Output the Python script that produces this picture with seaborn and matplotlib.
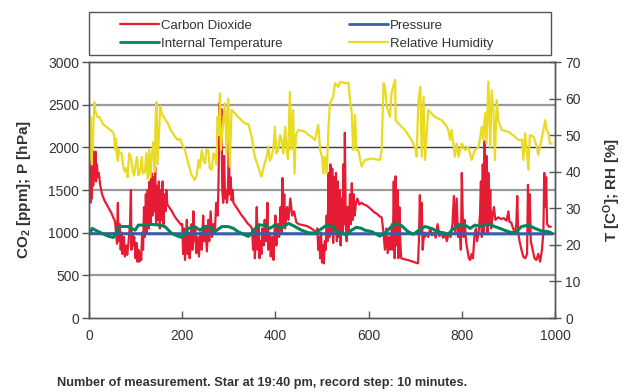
import matplotlib
matplotlib.use("Agg")
import matplotlib.pyplot as plt
from matplotlib.patches import Rectangle
from matplotlib.lines import Line2D
import seaborn as sns
import numpy as np

# ---------------- data ----------------
co2_m = [1,2,3,5,6,8,9,11,12,14,15,17,19,21,
         24,28,33,38,43,48,52,56,
         58,60,62,63,66,68,70,72,75,77,80,82,85,88,90,91,93,95,97,100,102,104,106,108,110,112,114,116,
         118,120,122,124,126,128,130,132,134,136,138,140,142,144,146,148,150,152,154,156,158,160,162,164,166,168,
         172,178,185,192,198,
         200,202,204,206,208,210,212,214,216,218,220,222,224,226,228,230,233,236,239,242,245,247,250,253,256,258,261,264,267,270,273,276,
         278,280,282,284,286,288,290,292,294,296,298,300,302,304,306,308,310,
         316,322,328,334,340,346,
         350,352,354,356,358,360,362,364,366,368,370,372,375,377,380,383,385,388,390,393,396,398,400,402,405,408,411,413,415,417,419,421,
         425,428,432,436,440,445,450,458,466,474,482,488,
         490,492,494,496,498,500,502,504,506,508,510,
         512,514,516,518,520,522,524,526,528,530,532,534,536,538,540,542,544,546,548,549,551,553,555,557,560,562,564,566,568,570,573,576,580,585,590,
         595,600,606,612,618,624,628,
         632,635,638,641,644,647,650,
         652,654,656,658,660,662,664,666,668,
         670,676,684,692,700,706,
         708,710,712,714,716,719,721,
         724,728,732,736,740,744,748,752,756,760,764,768,772,776,780,783,786,789,792,795,798,800,802,804,806,809,812,815,818,821,824,827,830,833,836,839,
         841,843,845,847,849,851,853,855,857,859,861,863,866,869,872,878,884,890,896,900,902,906,910,914,917,919,921,924,928,932,936,940,
         942,944,946,948,952,956,960,964,968,972,975,977,979,981,983,987,991]
co2_v = [1500,1950,1350,1900,1400,1960,1550,1900,1650,1950,1600,1800,1650,1700,
         1560,1450,1380,1330,1280,1230,1180,1130,
         1000,870,1350,900,1100,800,1000,750,950,720,850,740,900,1100,1500,800,1000,850,950,700,880,660,800,660,760,680,1000,800,
         1300,950,1450,1000,1500,1050,1600,1100,1700,1200,1650,1250,1770,1100,1550,1150,1600,1050,1500,1150,1600,1100,1450,1250,1500,1330,
         1300,1250,1180,1130,1090,
         1100,750,1050,680,900,1150,750,1000,700,850,1100,800,1250,900,1050,760,950,720,1000,800,1200,900,1050,780,1150,900,1250,950,1100,1000,1350,1200,
         1600,2520,2000,2450,1500,1350,1900,1400,1500,1350,1450,2050,1450,1650,1380,1500,1350,
         1300,1250,1200,1160,1110,1080,
         1050,800,1000,700,950,1300,800,1100,700,900,750,1050,850,1150,900,1350,800,1000,720,950,680,1000,1200,850,1100,950,1300,1000,1640,1100,1450,1050,
         1300,1150,1400,1200,1250,1120,1100,1090,1080,1060,1030,1000,
         1050,800,950,700,1000,650,850,640,900,800,1200,
         900,1700,950,1800,1000,1750,880,1650,1050,1700,900,1600,950,1500,850,1400,1000,1800,1100,2170,1100,900,1300,1000,1450,1100,1580,1150,1450,1200,1350,1400,1330,1350,1330,
         1320,1300,1270,1240,1220,1190,1180,
         1000,800,1050,760,950,800,1100,
         800,1600,700,1660,850,1500,700,1300,900,
         700,690,680,665,650,640,
         900,1440,1000,1350,800,1000,950,
         1000,950,1050,970,1000,940,1100,960,1000,940,980,900,1000,950,1100,1430,1000,1400,950,1100,800,1700,1200,950,1150,900,800,700,680,750,700,950,1050,900,1000,1200,
         1600,950,1800,1000,2070,1100,1900,1000,1700,1100,1500,1050,1200,1300,1150,1180,1160,1170,1140,1250,1130,1120,1050,1000,1100,1430,1000,900,800,720,700,750,
         1560,1000,1450,900,800,700,680,750,660,800,1000,1700,1300,1650,1100,1070,1070]

pres_m = [0, 100, 200, 300, 400, 500, 600, 700, 800, 900, 995]
pres_v = [988, 987, 987, 986, 987, 986, 986, 987, 986, 986, 986]

temp_m = [0,2,7,14,27,41,52,59,66,84,99,106,117,134,152,163,177,192,199,206,213,227,238,249,260,270,285,299,310,320,335,342,349,
          363,378,388,399,413,428,442,456,471,485,500,510,524,531,542,553,563,574,585,592,607,624,635,649,660,671,685,696,
          710,721,735,749,764,771,778,793,807,818,828,843,857,871,886,900,914,928,943,957,971,986,993]
temp_v = [23.6,23.2,24.5,24.0,23.2,22.4,22.0,23.6,25.0,25.0,24.0,25.4,25.4,25.6,25.4,25.0,23.2,22.3,22.1,23.2,24.5,25.0,24.0,25.0,25.0,23.6,25.0,25.0,24.5,23.6,22.7,22.3,23.2,
          25.4,25.4,24.5,25.4,24.5,25.9,25.0,24.0,23.3,23.2,24.5,25.4,25.0,23.6,23.2,22.7,24.0,24.8,24.5,24.0,23.6,22.4,23.2,25.0,25.9,25.2,23.6,22.9,
          24.2,25.0,24.5,23.6,23.2,22.7,24.0,25.4,25.4,24.5,25.4,25.0,25.7,25.0,24.3,23.6,23.2,25.0,25.4,24.5,23.8,23.6,23.2]

rh_m = [0,1,2,3,4,5,6,7,8,10,12,13,15,18,22,26,30,35,40,45,50,54,56,58,60,62,64,66,70,74,77,80,83,86,90,94,97,100,103,106,110,113,116,120,123,126,129,132,135,138,141,143,145,147,150,153,156,160,165,170,175,180,185,
        190,195,200,206,213,220,227,231,235,238,242,246,249,252,256,259,263,267,270,273,276,279,281,283,287,292,295,299,302,306,313,320,328,335,342,349,356,363,370,377,381,385,388,392,396,399,402,406,410,413,417,421,424,427,431,434,438,441,444,449,456,463,470,477,
        485,492,496,500,503,506,510,514,517,524,528,535,539,549,557,560,564,567,571,574,578,585,592,607,624,628,632,635,639,646,649,657,658,664,678,692,700,703,707,711,714,718,721,728,742,757,768,771,775,778,782,785,789,793,800,807,814,821,828,836,843,846,850,853,857,861,864,868,871,875,878,886,900,914,921,929,932,936,943,946,954,961,964,971,979,982,986,989,993]
rh_v = [50,54,47,55,44,52,42,50,46,55,59,57,56,55,55,54,53,52.5,52,51.5,51,50,46,49,44,43,46,45,45,41,40,41,38.5,45,44,40,39,42,44,39,40,44,39.5,40,45,38,46,38.5,45,48,40,55,59,42,50,58,56,55,54,53,51.5,50.5,49.5,
        48.7,49,47.5,45.9,42.3,39.1,37.7,39,43.2,41,45.9,43,42.3,46,45.9,41,40.5,45,44.6,42,55,50,61.4,46,52,58.7,45,60,41.4,56.9,56,55,54,53.2,53,49.6,44,41.4,38.6,42.3,44,46.8,43,44.1,47,52.3,45,45.9,50,48.7,45,52.3,46,43.5,61.8,46,56.9,39.5,50,51.4,51.2,51,50.2,49.6,
        48.7,52.8,45.9,44.1,39.5,44.1,39.5,52.3,58.7,60.5,64.2,63.2,64.6,64.2,64.3,59.6,56,45.9,55.5,45.9,45.9,41.4,43.2,43.6,43.2,45.9,64.2,63.2,57.8,55.0,61.4,65.1,54.1,53.2,51.4,48.7,46.4,44.1,59.6,63.2,44.1,60.5,43.2,56.9,55.0,54.1,52.3,51.4,48.7,51.4,47.7,44.1,47.7,44.1,47.7,45.9,46.8,43.2,45.9,46.8,52.3,48.7,56,47.7,64.6,46.8,62.3,56,43.2,59.6,54.1,51.4,50.9,49.6,48.7,48.7,43.2,50.5,40.5,50,49.6,46.8,44.6,48.7,54.1,51.4,50.5,47.7,47.7]

legend_labels = ["Carbon Dioxide", "Pressure", "Internal Temperature", "Relative Humidity"]
left_ticks = [0, 500, 1000, 1500, 2000, 2500, 3000]
right_ticks = [0, 10, 20, 30, 40, 50, 60, 70]
x_ticks = [0, 200, 400, 600, 800, 1000]

# ---------------- style ----------------
sns.set_style("white")
plt.rcParams["font.family"] = ["Liberation Sans", "DejaVu Sans"]
plt.rcParams["mathtext.fontset"] = "custom"
plt.rcParams["mathtext.rm"] = "Liberation Sans:bold"
plt.rcParams["mathtext.it"] = "Liberation Sans:bold"
plt.rcParams["mathtext.bf"] = "Liberation Sans:bold"

C_RED = "#e61c34"
C_BLUE = "#3b5caa"
C_GREEN = "#00855c"
C_YEL = "#e9da22"
C_TXT = "#333333"
C_SPINE = "#555555"

fig = plt.figure(figsize=(6.31, 3.92), dpi=100)
ax = fig.add_axes([89/631, 1-318/392, 466/631, 256/392])
ax2 = ax.twinx()

sns.lineplot(x=co2_m, y=co2_v, ax=ax, color=C_RED, lw=1.6, estimator=None, sort=False)
sns.lineplot(x=pres_m, y=pres_v, ax=ax, color=C_BLUE, lw=2.2, estimator=None, sort=False)
sns.lineplot(x=rh_m, y=rh_v, ax=ax2, color=C_YEL, lw=1.6, estimator=None, sort=False)
sns.lineplot(x=temp_m, y=temp_v, ax=ax2, color=C_GREEN, lw=2.2, estimator=None, sort=False)

ax.set_xlim(0, 1000)
ax.set_ylim(0, 3000)
ax2.set_ylim(0, 70)
ax.set_xticks(x_ticks)
ax.set_yticks(left_ticks)
ax2.set_yticks(right_ticks)

# grid: alternating light/dark horizontal lines
ax.yaxis.grid(True)
ax.xaxis.grid(False)
for val, gl in zip(left_ticks, ax.get_ygridlines()):
    if val in (1000, 2000):
        gl.set_color("#3a3a3a"); gl.set_linewidth(1.0)
    elif val in (0, 3000):
        gl.set_visible(False)
    else:
        gl.set_color("#9a9a9a"); gl.set_linewidth(1.6)
ax2.grid(False)

for a in (ax, ax2):
    for s in a.spines.values():
        s.set_color(C_SPINE); s.set_linewidth(1.0)
        s.set_visible(True)

ax.tick_params(axis="y", direction="out", length=5, width=1, color=C_SPINE, labelsize=10, labelcolor=C_TXT, pad=2, left=True)
ax.tick_params(axis="x", direction="in", length=5, width=1, color=C_SPINE, labelsize=10, labelcolor=C_TXT, pad=8, bottom=True)
ax2.tick_params(axis="y", direction="inout", length=9, width=1, color=C_SPINE, labelsize=10, labelcolor=C_TXT, pad=3, right=True)

ax.set_xlabel("Number of measurement. Star at 19:40 pm, record step: 10 minutes.",
              fontsize=9.2, fontweight="bold", color=C_TXT)
ax.xaxis.set_label_coords(0.371, -0.232)
ax.set_ylabel(r"CO$_2$ [ppm]; P [hPa]", fontsize=11, fontweight="bold", color=C_TXT)
ax.yaxis.set_label_coords(-0.12, 0.5)
ax2.set_ylabel(r"T [C$^{\mathrm{O}}$]; RH [%]", fontsize=11, fontweight="bold", color=C_TXT, rotation=90)
ax2.yaxis.set_label_coords(1.1, 0.5)

# legend
handles = [Line2D([], [], color=C_RED, lw=1.6),
           Line2D([], [], color=C_GREEN, lw=2.0),
           Line2D([], [], color=C_BLUE, lw=2.0),
           Line2D([], [], color=C_YEL, lw=1.6)]
labels = [legend_labels[0], legend_labels[2], legend_labels[1], legend_labels[3]]
fig.patches.append(Rectangle((89/631, 1-55/392), 462/631, 43/392, transform=fig.transFigure,
                             fill=False, edgecolor=C_SPINE, lw=1.0))
leg = fig.legend(handles, labels, ncol=2, frameon=False, loc="upper left",
                 bbox_to_anchor=(109/631, 1-9/392), fontsize=9.5, handlelength=3.0,
                 handletextpad=0.15, columnspacing=5.0, labelspacing=0.45, borderpad=0.3)
for t in leg.get_texts():
    t.set_color(C_TXT)

fig.savefig("out.png", dpi=100)
